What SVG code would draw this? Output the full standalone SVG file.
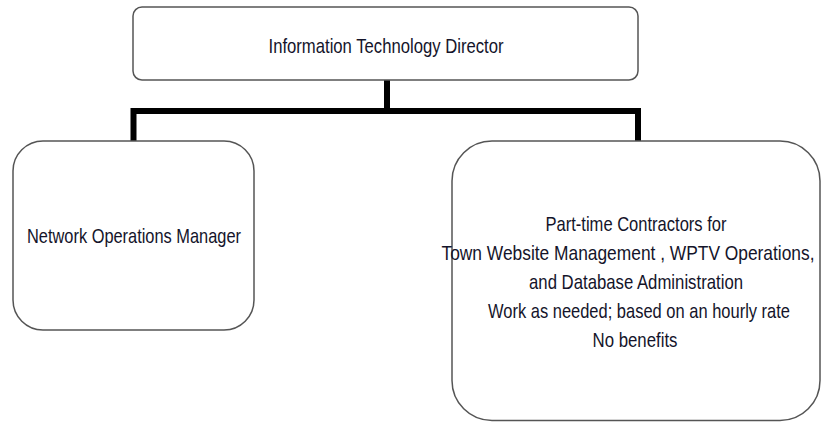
<svg xmlns="http://www.w3.org/2000/svg" width="821" height="422" viewBox="0 0 821 422">
<style>
.box{fill:#fff;stroke:#555;stroke-width:1.5}
.t{font-family:"Liberation Sans",Arial,sans-serif;font-size:17px;fill:#14142a;text-anchor:middle}
.c{fill:none;stroke:#000;stroke-width:6;stroke-linecap:butt;stroke-linejoin:miter}
</style>
<rect width="821" height="422" fill="#fff"/>
<g id="connectors">
<path class="c" d="M387 80 V111 M133.5 142 V111 H638 V142"/>
</g>
<g id="director">
<rect class="box" x="133" y="7" width="505" height="73" rx="9"/>
<text class="t" transform="translate(386 53) scale(1 1.18)" textLength="235" lengthAdjust="spacingAndGlyphs">Information Technology Director</text>
</g>
<g id="network">
<rect class="box" x="13" y="141" width="241" height="189" rx="30"/>
<text class="t" transform="translate(134 243) scale(1 1.18)" textLength="214" lengthAdjust="spacingAndGlyphs">Network Operations Manager</text>
</g>
<g id="contractors">
<rect class="box" x="452" y="141" width="368" height="279.5" rx="40"/>
<text class="t" transform="translate(636 231) scale(1 1.18)" textLength="181" lengthAdjust="spacingAndGlyphs">Part-time Contractors for</text>
<text class="t" transform="translate(628 260) scale(1 1.18)" textLength="373" lengthAdjust="spacingAndGlyphs">Town Website Management , WPTV Operations,</text>
<text class="t" transform="translate(636 289) scale(1 1.18)" textLength="214" lengthAdjust="spacingAndGlyphs">and Database Administration</text>
<text class="t" transform="translate(639 318) scale(1 1.18)" textLength="302" lengthAdjust="spacingAndGlyphs">Work as needed; based on an hourly rate</text>
<text class="t" transform="translate(635 347) scale(1 1.18)" textLength="85" lengthAdjust="spacingAndGlyphs">No benefits</text>
</g>
</svg>
